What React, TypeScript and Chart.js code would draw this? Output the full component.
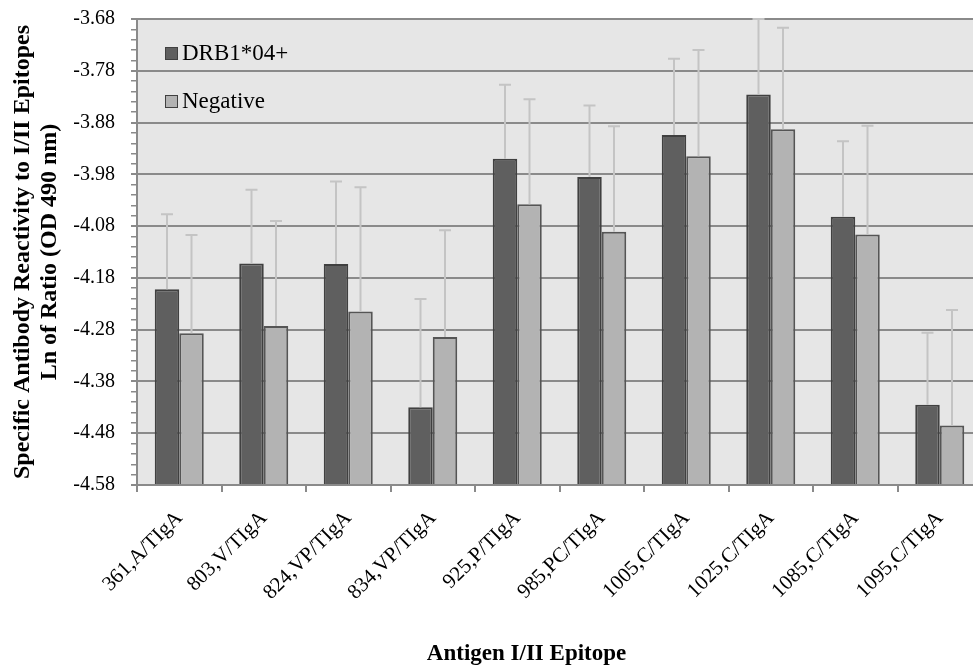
import React, { useEffect, useRef } from "react";
import { Chart, registerables } from "chart.js";

Chart.register(...registerables);

const categories = [
  "361,A/TIgA",
  "803,V/TIgA",
  "824,VP/TIgA",
  "834,VP/TIgA",
  "925,P/TIgA",
  "985,PC/TIgA",
  "1005,C/TIgA",
  "1025,C/TIgA",
  "1085,C/TIgA",
  "1095,C/TIgA",
];
const seriesNames = ["DRB1*04+", "Negative"];
const drbValues = [-4.202, -4.152, -4.153, -4.43, -3.95, -3.985, -3.904, -3.826, -4.062, -4.425];
const drbErrors = [0.145, 0.142, 0.159, 0.209, 0.143, 0.138, 0.147, 0.146, 0.146, 0.139];
const negValues = [-4.287, -4.273, -4.245, -4.294, -4.038, -4.091, -3.945, -3.893, -4.096, -4.465];
const negErrors = [0.19, 0.203, 0.24, 0.206, 0.203, 0.204, 0.205, 0.196, 0.21, 0.223];
const yMin = -4.58;
const yMax = -3.68;
const yMinorStep = 0.02;
const yTitleLines = ["Specific Antibody Reactivity to I/II Epitopes", "Ln of Ratio (OD 490 nm)"];
const xTitle = "Antigen I/II Epitope";

const FONT = "'Liberation Serif', 'Times New Roman', serif";
const GRID = "#8a8a8a";
const DARK = "#5f5f5f";
const LIGHT = "#b3b3b3";

const bgPlugin = {
  id: "plotBg",
  beforeDraw(chart: any) {
    const { ctx, chartArea: a } = chart;
    ctx.save();
    ctx.fillStyle = "#e6e6e6";
    ctx.fillRect(a.left, a.top, a.right - a.left, a.bottom - a.top);
    ctx.restore();
  },
};

const errorPlugin = {
  id: "errorBars",
  afterDatasetsDraw(chart: any) {
    const { ctx } = chart;
    const yScale = chart.scales.y;
    ctx.save();
    ctx.strokeStyle = "#c4c4c4";
    ctx.lineWidth = 2;
    chart.data.datasets.forEach((ds: any, i: number) => {
      const meta = chart.getDatasetMeta(i);
      meta.data.forEach((el: any, j: number) => {
        const v = ds.data[j];
        const e = ds.errors[j];
        const yTop = yScale.getPixelForValue(v + e);
        const x = el.x;
        ctx.beginPath();
        ctx.moveTo(x, el.y);
        ctx.lineTo(x, yTop);
        ctx.moveTo(x - 6, yTop);
        ctx.lineTo(x + 6, yTop);
        ctx.stroke();
      });
    });
    ctx.restore();
  },
};

const legendPlugin = {
  id: "insideLegend",
  afterDraw(chart: any) {
    const { ctx, chartArea: a } = chart;
    ctx.save();
    ctx.font = `23px ${FONT}`;
    ctx.textBaseline = "alphabetic";
    ctx.textAlign = "left";
    chart.data.datasets.forEach((ds: any, i: number) => {
      const bx = a.left + 28;
      const by = a.top + 28 + i * 48;
      ctx.fillStyle = ds.backgroundColor;
      ctx.fillRect(bx, by, 13, 13);
      ctx.strokeStyle = "#404040";
      ctx.lineWidth = 1;
      ctx.strokeRect(bx + 0.5, by + 0.5, 12, 12);
      ctx.fillStyle = "#000";
      ctx.fillText(ds.label, bx + 17, by + 13);
    });
    ctx.restore();
  },
};

const xTitlePlugin = {
  id: "xTitle",
  afterDraw(chart: any) {
    const { ctx, chartArea: a } = chart;
    ctx.save();
    ctx.font = `bold 23px ${FONT}`;
    ctx.fillStyle = "#000";
    ctx.textAlign = "center";
    ctx.textBaseline = "alphabetic";
    ctx.fillText(xTitle, a.left + (a.right - a.left) * 0.461, 660);
    ctx.restore();
  },
};

export default function App() {
  const ref = useRef<HTMLCanvasElement | null>(null);

  useEffect(() => {
    if (!ref.current) return;
    const chart = new Chart(ref.current, {
      type: "bar",
      data: {
        labels: categories,
        datasets: [
          {
            label: seriesNames[0],
            data: drbValues,
            errors: drbErrors,
            backgroundColor: DARK,
            borderColor: "#404040",
            borderWidth: 2,
            base: yMin,
            categoryPercentage: 0.58,
            barPercentage: 1,
          } as any,
          {
            label: seriesNames[1],
            data: negValues,
            errors: negErrors,
            backgroundColor: LIGHT,
            borderColor: "#555555",
            borderWidth: 2,
            base: yMin,
            categoryPercentage: 0.58,
            barPercentage: 1,
          } as any,
        ],
      },
      options: {
        responsive: false,
        animation: false,
        layout: { padding: { left: 0, top: 19, right: 8, bottom: 0 } },
        plugins: {
          legend: { display: false },
          tooltip: { enabled: false },
        },
        scales: {
          x: {
            offset: true,
            grid: {
              display: true,
              drawOnChartArea: false,
              drawTicks: true,
              tickLength: 7,
              color: GRID,
              lineWidth: 2,
              offset: true,
            },
            border: { color: GRID, width: 2 },
            ticks: {
              autoSkip: false,
              maxRotation: 45,
              minRotation: 45,
              color: "#000",
              padding: 14,
              font: { family: FONT, size: 21 },
            },
            afterFit(scale: any) {
              scale.height = 182;
            },
          },
          y: {
            min: yMin,
            max: yMax,
            ticks: {
              stepSize: yMinorStep,
              autoSkip: false,
              color: "#000",
              padding: 16,
              font: { family: FONT, size: 20, lineHeight: 0.2 },
              callback(value: any, index: number) {
                return index % 5 === 0 ? Number(value).toFixed(2) : "";
              },
            },
            grid: {
              drawTicks: true,
              tickLength: 6,
              color: (c: any) => (c.index % 5 === 0 ? GRID : "rgba(0,0,0,0)"),
              tickColor: GRID,
              lineWidth: (c: any) => (c.index % 5 === 0 ? 2 : 1.5),
            },
            border: { color: GRID, width: 2 },
            title: {
              display: true,
              text: yTitleLines,
              color: "#000",
              font: { family: FONT, size: 24, weight: "bold", lineHeight: 1.1 },
              padding: { top: 10, bottom: 0 },
            },
            afterFit(scale: any) {
              scale.width = 137;
            },
          },
        },
      } as any,
      plugins: [bgPlugin, errorPlugin, legendPlugin, xTitlePlugin],
    });
    return () => chart.destroy();
  }, []);

  return (
    <div
      style={{
        position: "fixed",
        left: 0,
        top: 0,
        width: 973,
        height: 667,
        overflow: "hidden",
        background: "#fff",
      }}
    >
      <canvas ref={ref} width={990} height={667} style={{ width: 990, height: 667, display: "block" }} />
    </div>
  );
}
